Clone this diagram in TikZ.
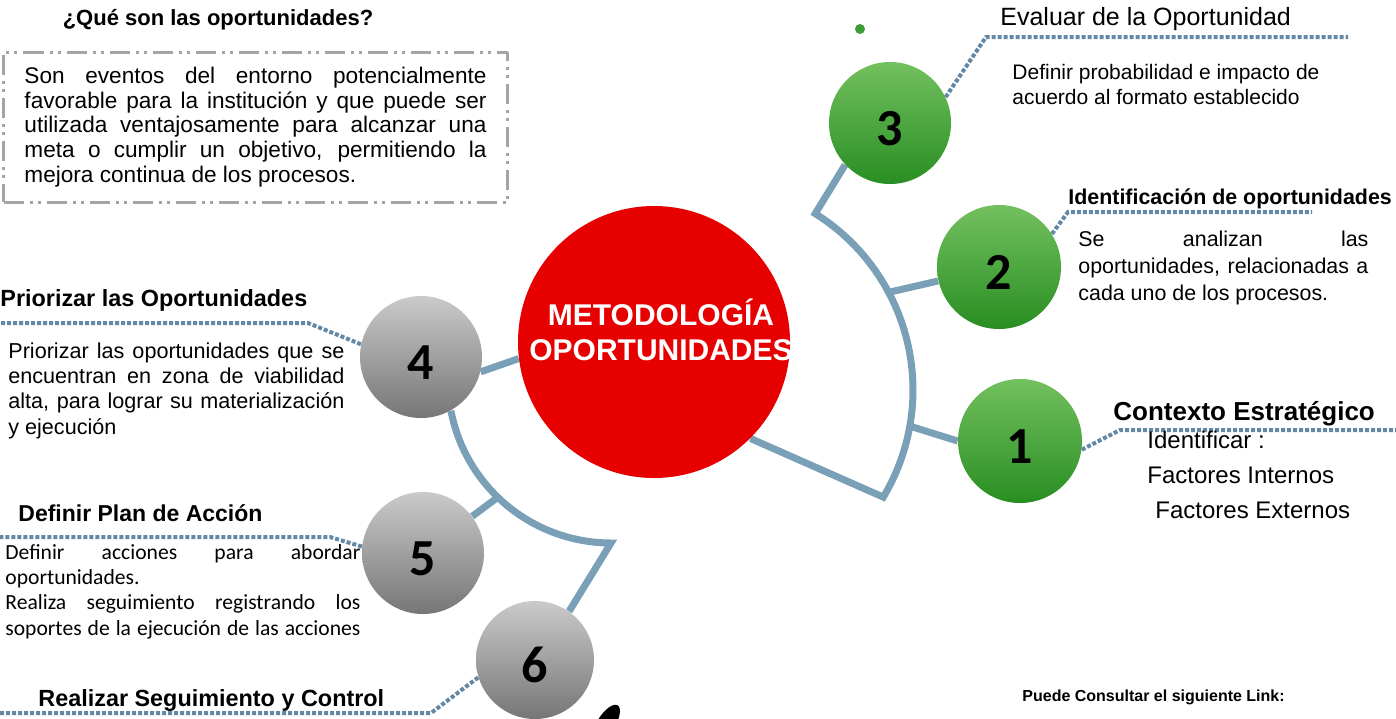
\documentclass[tikz,border=0pt]{standalone}
\usepackage{fontspec}
\setmainfont{Liberation Sans}
\newfontfamily\carlito{Carlito}
\usetikzlibrary{backgrounds}
\definecolor{linkblue}{RGB}{122,160,184}
\definecolor{dotblue}{RGB}{98,136,166}
\definecolor{ballred}{RGB}{230,0,0}
\definecolor{greentop}{RGB}{115,192,95}
\definecolor{greenbot}{RGB}{40,142,34}
\definecolor{graytop}{RGB}{202,202,202}
\definecolor{graybot}{RGB}{118,118,118}
\definecolor{boxgray}{RGB}{165,165,165}
\tolerance=10000 \hyphenpenalty=10000 \exhyphenpenalty=10000
\begin{document}
\begin{tikzpicture}[x=0.5pt,y=-0.5pt, line join=round,
	ball/.style={circle, inner sep=0pt, text height=22.5pt, font=\carlito\bfseries\fontsize{26}{26}\selectfont},
	greenball/.style={ball, top color=greentop, bottom color=greenbot},
	grayball/.style={ball, top color=graytop, bottom color=graybot},
	link/.style={draw=linkblue, line width=3.5pt},
	leader/.style={draw=dotblue, line width=2pt, dash pattern=on 2pt off 1pt},
	txt/.style={inner sep=0pt, align=justify},
	head/.style={anchor=west, inner sep=0pt}]
	\useasboundingbox (0,0) rectangle (1396,718);
	% centro
	\node[circle, fill=ballred, minimum size=136pt, inner sep=0pt] (red) at (654,342) {};
	\node[font=\bfseries\fontsize{15}{17.5}\selectfont, text=white, align=center] (redtxt) at (661,330) {METODOLOGÍA\\OPORTUNIDADES};
	% pasos
	\node[greenball, minimum size=61pt] (c3) at (890,123) {3};
	\node[greenball, minimum size=62pt] (c2) at (999,267) {2};
	\node[greenball, minimum size=62pt] (c1) at (1020,441) {1};
	\node[grayball, minimum size=61pt] (c4) at (421,357) {4};
	\node[grayball, minimum size=61pt] (c5) at (423,553) {5};
	\node[grayball, minimum size=59pt] (c6) at (535,660) {6};
	\fill[greenbot!70!greentop] (860,29) circle (5);
	\fill[black, rotate around={-32:(606,724)}] (606,724) ellipse [x radius=9, y radius=22];
	% definicion
	\node[font=\bfseries\fontsize{11}{13}\selectfont] (qtitle) at (218,20) {¿Qué son las oportunidades?};
	\node[draw=boxgray, line width=1.5pt, dash pattern=on 10pt off 3pt on 1.5pt off 2.5pt on 1.5pt off 3pt,
		text width=231pt, inner xsep=10.5pt, minimum height=75pt, align=justify,
		font=\fontsize{11.3}{12.4}\selectfont] (defbox) at (255.5,127)
		{Son eventos del entorno potencialmente\linebreak favorable para la institución y que puede ser\linebreak utilizada ventajosamente para alcanzar una\linebreak meta o cumplir un objetivo, permitiendo la\linebreak mejora continua de los procesos.};
	% textos derecha
	\node[head, font=\fontsize{12.5}{15}\selectfont] (t3) at (1000,19) {Evaluar de la Oportunidad};
	\node[anchor=north west, inner sep=0pt, align=left, font=\fontsize{10.5}{12.5}\selectfont] (b3) at (1012,64) {Definir probabilidad e impacto de\\acuerdo al formato establecido};
	\node[head, font=\bfseries\fontsize{10.7}{13}\selectfont] (t2) at (1068,199) {Identificación de oportunidades};
	\node[txt, anchor=north west, text width=145pt, font=\fontsize{10.7}{13.5}\selectfont] (b2) at (1078,231) {Se analizan las\linebreak oportunidades, relacionadas a\linebreak cada uno de los procesos.};
	\node[head, font=\bfseries\fontsize{13}{15}\selectfont] (t1) at (1113,414) {Contexto Estratégico};
	\node[anchor=north west, inner sep=0pt, align=left, font=\fontsize{12}{17.5}\selectfont] (b1) at (1147,431) {Identificar :\\Factores Internos\\\hspace*{4pt}Factores Externos};
	\node[head, font=\bfseries\fontsize{8}{10}\selectfont] (consult) at (1022,697) {Puede Consultar el siguiente Link:};
	% textos izquierda
	\node[head, font=\bfseries\fontsize{11.7}{14}\selectfont] (t4) at (0,300) {Priorizar las Oportunidades};
	\node[txt, anchor=north west, text width=168pt, font=\fontsize{10.8}{12.7}\selectfont] (b4) at (8,342) {Priorizar las oportunidades que se\linebreak encuentran en zona de viabilidad\linebreak alta, para lograr su materialización\linebreak y ejecución};
	\node[head, font=\bfseries\fontsize{11.5}{14}\selectfont] (t5) at (18,513) {Definir Plan de Acción};
	\node[txt, anchor=north west, text width=177.5pt, font=\carlito\fontsize{10.8}{12.6}\selectfont] (b5) at (5,544) {Definir acciones para abordar oportunidades.\par{\parfillskip=0pt Realiza seguimiento registrando los\linebreak soportes de la ejecución de las acciones\par}};
	\node[head, font=\bfseries\fontsize{11.7}{14}\selectfont] (t6) at (38,700) {Realizar Seguimiento y Control};
	% lineas
	\coordinate (j2) at ({705+208*cos(-28)},{390+208*sin(-28)});
	\coordinate (j1) at ({705+208*cos(10)},{390+208*sin(10)});
	\coordinate (j5) at ({611+163*cos(134)},{380+163*sin(134)});
	\coordinate (l3a) at (986,37);   \coordinate (l3b) at (1348,37);
	\coordinate (l2a) at (1068,212); \coordinate (l2b) at (1312,212);
	\coordinate (l1a) at (1120,430); \coordinate (l1b) at (1396,430);
	\coordinate (l4a) at (308,323);  \coordinate (l4b) at (0,323);
	\coordinate (l5a) at (330,537);  \coordinate (l5b) at (0,537);
	\coordinate (l6a) at (431,713);  \coordinate (l6b) at (0,713);
	\begin{scope}[on background layer]
		\draw[link] (c3.223) -- plot[domain=-58:31, samples=40] ({705+208*cos(\x)},{390+208*sin(\x)}) -- (red.-45);
		\draw[link] (j2) -- (c2);
		\draw[link] (j1) -- (c1.180);
		\draw[link] (c6.55) -- plot[domain=90:168, samples=40] ({611+163*cos(\x)},{380+163*sin(\x)}) -- (c4.-61);
		\draw[link] (j5) -- (c5);
		\draw[link] (c4.-14) -- (red.187);
		\draw[leader] (c3.25) -- (l3a) -- (l3b);
		\draw[leader] (c2.32) -- (l2a) -- (l2b);
		\draw[leader] (c1.-8) -- (l1a) -- (l1b);
		\draw[leader] (c4.168) -- (l4a) -- (l4b);
		\draw[leader] (c5.174) -- (l5a) -- (l5b);
		\draw[leader] (c6.197) -- (l6a) -- (l6b);
	\end{scope}
\end{tikzpicture}
\end{document}
